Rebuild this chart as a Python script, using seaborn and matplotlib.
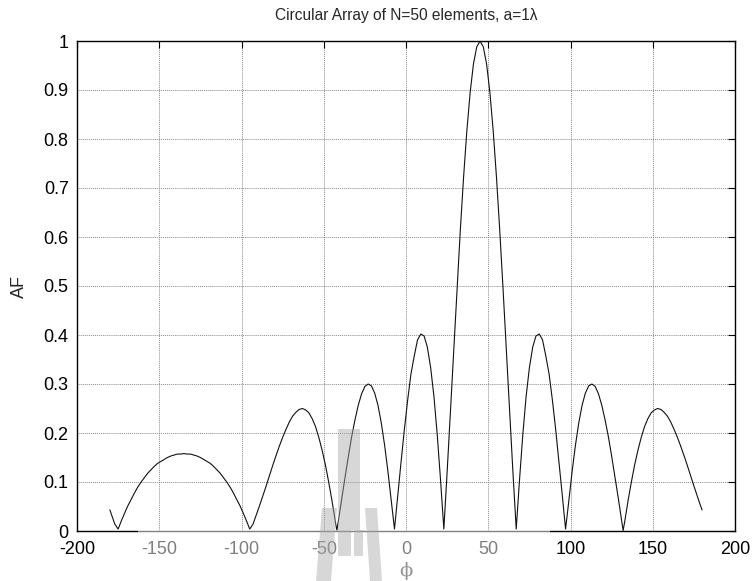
import numpy as np
import pandas as pd
import matplotlib
matplotlib.use("Agg")
import matplotlib.pyplot as plt
from matplotlib.patches import Polygon, Rectangle
import seaborn as sns

# Azimuth samples (degrees) and the array factor magnitude at each sample
phi_deg = np.concatenate([[-180], np.arange(-179, 180, 2), [180]])
af = [
    0.043,
    0.033, 0.014, 0.004, 0.021, 0.037, 0.052, 0.065, 0.078, 0.090, 0.100,
    0.109, 0.118, 0.125, 0.132, 0.138, 0.142, 0.146, 0.150, 0.153, 0.155,
    0.157, 0.157, 0.158, 0.157, 0.157, 0.155, 0.153, 0.150, 0.146, 0.142,
    0.138, 0.132, 0.125, 0.118, 0.109, 0.100, 0.090, 0.078, 0.065, 0.052,
    0.037, 0.021, 0.004, 0.014, 0.033, 0.052, 0.072, 0.092, 0.113, 0.134,
    0.154, 0.173, 0.191, 0.207, 0.222, 0.234, 0.242, 0.248, 0.250, 0.247,
    0.241, 0.229, 0.213, 0.191, 0.165, 0.135, 0.100, 0.062, 0.020, 0.023,
    0.068, 0.111, 0.153, 0.193, 0.227, 0.257, 0.280, 0.295, 0.300, 0.296,
    0.281, 0.256, 0.220, 0.175, 0.122, 0.062, 0.004, 0.073, 0.141, 0.207,
    0.267, 0.320, 0.357, 0.390, 0.402, 0.398, 0.375, 0.333, 0.274, 0.196,
    0.104, 0.004, 0.120, 0.244, 0.370, 0.494, 0.613, 0.722, 0.817, 0.895,
    0.953, 0.988, 1.000, 0.988, 0.953, 0.895, 0.817, 0.722, 0.613, 0.494,
    0.370, 0.244, 0.120, 0.004, 0.104, 0.196, 0.274, 0.333, 0.375, 0.398,
    0.402, 0.390, 0.357, 0.320, 0.267, 0.207, 0.141, 0.073, 0.004, 0.062,
    0.122, 0.175, 0.220, 0.256, 0.281, 0.296, 0.300, 0.295, 0.280, 0.257,
    0.227, 0.193, 0.153, 0.111, 0.068, 0.023, 0.020, 0.062, 0.100, 0.135,
    0.165, 0.191, 0.213, 0.229, 0.241, 0.247, 0.250, 0.248, 0.242, 0.234,
    0.222, 0.207, 0.191, 0.173, 0.154, 0.134, 0.113, 0.092, 0.072, 0.052,
    0.043,
]
# Extra samples at the nulls of the third side lobes
null_phi = [-42, 132]
null_af = [0.001, 0.001]

x_ticks = [-200, -150, -100, -50, 0, 50, 100, 150, 200]
y_ticks = [0, 0.1, 0.2, 0.3, 0.4, 0.5, 0.6, 0.7, 0.8, 0.9, 1]
y_tick_labels = ["0", "0.1", "0.2", "0.3", "0.4", "0.5", "0.6", "0.7", "0.8", "0.9", "1"]
title_text = "Circular Array of N=50 elements, a=1λ"

df = pd.DataFrame({"phi": np.concatenate([phi_deg, null_phi]),
                   "AF": np.concatenate([af, null_af])}).sort_values("phi")

sns.set_style("white")
plt.rcParams["font.family"] = ["Liberation Sans", "DejaVu Sans"]

W, H = 754, 581
fig = plt.figure(figsize=(W / 100, H / 100), dpi=100)
fig.patch.set_facecolor("white")
ax = fig.add_axes([77 / W, 1 - 531 / H, (735 - 77) / W, (531 - 41) / H])
ax.set_facecolor("none")

sns.lineplot(data=df, x="phi", y="AF", ax=ax, color="#111111", linewidth=0.8,
             sort=True)

ax.set_xlim(-200, 200)
ax.set_ylim(0, 1)
ax.set_xticks(x_ticks)
ax.set_xticklabels([str(t) for t in x_ticks])
ax.set_yticks(y_ticks)
ax.set_yticklabels(y_tick_labels)
ax.tick_params(direction="in", length=5, width=0.8, top=True, right=True,
               labelsize=13, colors="black")
ax.tick_params(axis="y", pad=6)
ax.tick_params(axis="x", pad=7)
ax.grid(True, color="#8a8a8a", linestyle=(0, (1, 1)), linewidth=0.7)
for s in ax.spines.values():
    s.set_color("black")
    s.set_linewidth(1.0)

ax.set_title(title_text, fontsize=11.2, pad=15)
ax.set_ylabel("AF", fontsize=13, labelpad=11)
ax.set_xlabel("ϕ", fontsize=14, family=["DejaVu Serif"], labelpad=3)

# Faded band across the lower middle of the figure
fig.patches.append(Rectangle((138 / W, 0), (550 - 138) / W, 1 - 530 / H,
                             transform=fig.transFigure, facecolor="white",
                             alpha=0.5, edgecolor="none", zorder=5))


def px_poly(pts, **kw):
    xy = [(x / W, 1 - y / H) for x, y in pts]
    return Polygon(xy, closed=True, transform=fig.transFigure, **kw)


logo_style = dict(facecolor="#a8a8a8", edgecolor="none", alpha=0.45, zorder=6)
logo_shapes = [
    [(338, 429), (360, 429), (360, 530), (338, 530)],
    [(338, 530), (351, 530), (351, 556), (338, 556)],
    [(354, 530), (363, 530), (363, 556), (354, 556)],
    [(322, 508), (337, 508), (331, 581), (316, 581)],
    [(365, 508), (377, 508), (382, 581), (370, 581)],
]
for shape in logo_shapes:
    fig.patches.append(px_poly(shape, **logo_style))

fig.savefig("out.png", dpi=100)
